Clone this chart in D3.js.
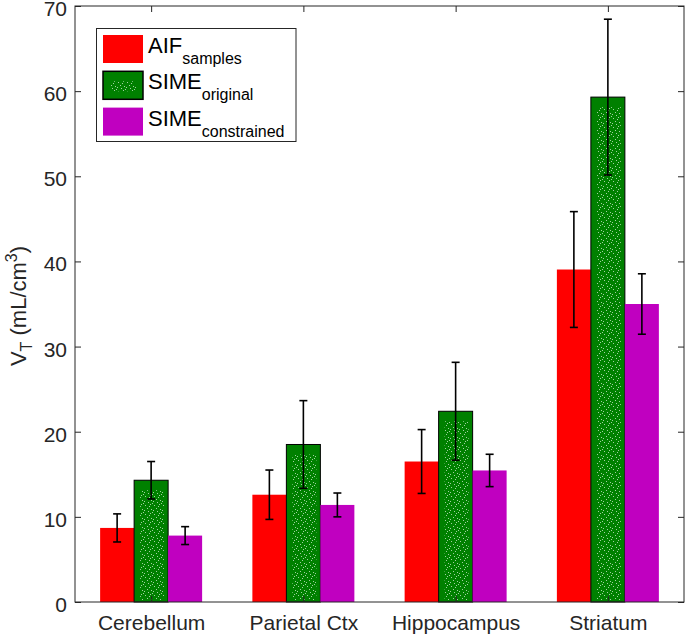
<!DOCTYPE html>
<html>
<head>
<meta charset="utf-8">
<script src="https://cdn.jsdelivr.net/npm/d3@7/dist/d3.min.js"></script>
<style>
  html, body { margin: 0; padding: 0; background: #fff; }
  svg { display: block; font-family: "Liberation Sans", Arial, Helvetica, sans-serif; }
</style>
</head>
<body>
<svg id="chart" width="685" height="635"></svg>
<script>
// ---- data ----
const categories = ["Cerebellum", "Parietal Ctx", "Hippocampus", "Striatum"];
const aifSamples = [8.7, 12.6, 16.5, 39.05];
const aifSamplesErr = [1.65, 2.9, 3.75, 6.8];
const simeOriginal = [14.3, 18.5, 22.4, 59.3];
const simeOriginalErr = [2.2, 5.15, 5.75, 9.15];
const simeConstrained = [7.8, 11.4, 15.45, 35.0];
const simeConstrainedErr = [1.05, 1.4, 1.9, 3.55];
const yTicks = [0, 10, 20, 30, 40, 50, 60, 70];
const seriesNames = [["AIF", "samples"], ["SIME", "original"], ["SIME", "constrained"]];

const series = [
  { vals: aifSamples, err: aifSamplesErr, color: "#ff0000", stroke: null, dots: false },
  { vals: simeOriginal, err: simeOriginalErr, color: "#008000", stroke: "#000", dots: true },
  { vals: simeConstrained, err: simeConstrainedErr, color: "#c000c0", stroke: null, dots: false }
];

const svg = d3.select("#chart");
const axisColor = "#262626";
const L = 75, R = 684, T = 6, B = 602;

const x = d3.scaleLinear().domain([0.5, categories.length + 0.5]).range([L, R]);
const y = d3.scaleLinear().domain([0, 70]).range([B, T]);
const barW = 0.2233;

// dotted pattern
const defs = svg.append("defs");
const pat = defs.append("pattern").attr("id", "dots").attr("patternUnits", "userSpaceOnUse")
  .attr("width", 9).attr("height", 9);
pat.append("rect").attr("width", 9).attr("height", 9).attr("fill", "#008000");
[[1,1],[5,2],[3,4],[7,5],[0,6],[4,7],[8,8],[6,0]].forEach(p => {
  pat.append("rect").attr("x", p[0]).attr("y", p[1]).attr("width", 1).attr("height", 1)
    .attr("fill", "#9fd09f");
});

// bars
series.forEach((s, j) => {
  const off = (j - 1) * barW;
  const g = svg.append("g");
  categories.forEach((c, i) => {
    const x0 = x(i + 1 + off - barW / 2), x1 = x(i + 1 + off + barW / 2);
    const yt = y(s.vals[i]);
    g.append("rect").attr("x", x0).attr("y", yt).attr("width", x1 - x0).attr("height", y(0) - yt)
      .attr("fill", s.color)
      .attr("stroke", s.stroke || "none").attr("stroke-width", 1);
    if (s.dots) {
      const h = y(0) - yt - 12;
      if (h > 0) {
        g.append("rect").attr("x", x0 + 6).attr("y", yt + 10).attr("width", x1 - x0 - 10).attr("height", h)
          .attr("fill", "url(#dots)");
      }
    }
  });
});

// error bars
series.forEach((s, j) => {
  const off = (j - 1) * barW;
  const g = svg.append("g").attr("stroke", "#000").attr("stroke-width", 1.6);
  categories.forEach((c, i) => {
    const cx = x(i + 1 + off);
    const yh = y(s.vals[i] + s.err[i]), yl = y(s.vals[i] - s.err[i]);
    g.append("line").attr("x1", cx).attr("x2", cx).attr("y1", yh).attr("y2", yl);
    g.append("line").attr("x1", cx - 4).attr("x2", cx + 4).attr("y1", yh).attr("y2", yh);
    g.append("line").attr("x1", cx - 4).attr("x2", cx + 4).attr("y1", yl).attr("y2", yl);
  });
});

// axes
const tickLen = 6;
const yAxisL = d3.axisLeft(y).tickValues(yTicks).tickSizeInner(-tickLen).tickSizeOuter(0).tickPadding(8);
const yAxisR = d3.axisRight(y).tickValues(yTicks).tickSizeInner(-tickLen).tickSizeOuter(0).tickFormat("");
const xAxisB = d3.axisBottom(x).tickValues(d3.range(1, categories.length + 1))
  .tickFormat(d => categories[d - 1]).tickSizeInner(-tickLen).tickSizeOuter(0).tickPadding(13);
const xAxisT = d3.axisTop(x).tickValues(d3.range(1, categories.length + 1))
  .tickFormat("").tickSizeInner(-tickLen).tickSizeOuter(0);

function style(g) {
  g.select(".domain").remove();
  g.selectAll("line").attr("stroke", axisColor).attr("stroke-width", 1);
  g.selectAll("text").attr("fill", axisColor).style("font-size", "21px")
    .style("font-family", '"Liberation Sans", Arial, sans-serif');
}
svg.append("g").attr("transform", `translate(${L},0)`).call(yAxisL).call(style)
  .selectAll("text").attr("dy", "0.45em");
svg.append("g").attr("transform", `translate(${R},0)`).call(yAxisR).call(style);
svg.append("g").attr("transform", `translate(0,${B})`).call(xAxisB).call(style);
svg.append("g").attr("transform", `translate(0,${T})`).call(xAxisT).call(style);

svg.append("rect").attr("x", L).attr("y", T).attr("width", R - L).attr("height", B - T)
  .attr("fill", "none").attr("stroke", axisColor).attr("stroke-width", 1);

// y label
const yl = svg.append("text").attr("transform", "translate(26,306) rotate(-90)")
  .attr("text-anchor", "middle").attr("fill", axisColor).style("font-size", "22px");
yl.append("tspan").text("V");
yl.append("tspan").attr("dy", 6).style("font-size", "16px").text("T");
yl.append("tspan").attr("dy", -6).text(" (mL/cm");
yl.append("tspan").attr("dy", -9).style("font-size", "16px").text("3");
yl.append("tspan").attr("dy", 9).text(")");

// legend
const lg = svg.append("g");
lg.append("rect").attr("x", 96.5).attr("y", 28.5).attr("width", 199.5).attr("height", 113)
  .attr("fill", "#fff").attr("stroke", axisColor).attr("stroke-width", 1);
seriesNames.forEach((nm, j) => {
  const s = series[j];
  const yc = 49 + j * 36.3;
  lg.append("rect").attr("x", 103).attr("y", yc - 14).attr("width", 40).attr("height", 28)
    .attr("fill", s.color).attr("stroke", s.stroke || "none").attr("stroke-width", 1.5);
  if (s.dots) {
    lg.append("rect").attr("x", 110).attr("y", yc - 4).attr("width", 26).attr("height", 10)
      .attr("fill", "url(#dots)");
  }
  const t = lg.append("text").attr("x", 148).attr("y", yc + 4).attr("fill", "#000")
    .style("font-size", "22px");
  t.append("tspan").text(nm[0]);
  t.append("tspan").attr("dy", 11).style("font-size", "16px").text(nm[1]);
});
</script>
</body>
</html>
